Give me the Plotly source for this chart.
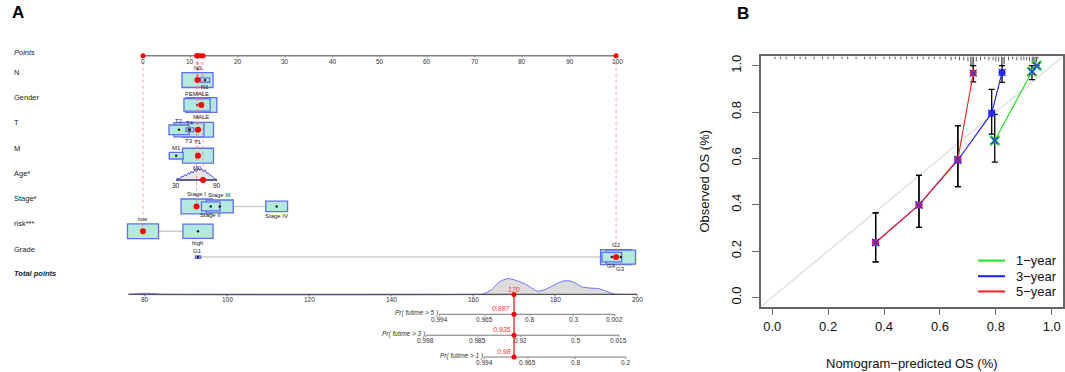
import numpy as np
import plotly.graph_objects as go

W, H = 1065, 372

# ======================= DATA =======================
points_ticks = [0, 10, 20, 30, 40, 50, 60, 70, 80, 90, 100]

N_levels = ["N0", "N1"]
N_points = [11.5, 13.1]
N_count = [330, 28]

gender_levels = ["FEMALE", "MALE"]
gender_points = [11.4, 12.3]
gender_count = [150, 210]

T_levels = ["T1", "T2", "T3", "T4"]
T_points = [11.6, 7.6, 9.7, 9.9]
T_count = [150, 63, 140, 10]

M_levels = ["M0", "M1"]
M_points = [11.6, 7.0]
M_count = [340, 68]

stage_levels = ["Stage I", "Stage II", "Stage III", "Stage IV"]
stage_points = [11.3, 14.3, 16.2, 28.2]
stage_count = [120, 43, 90, 59]

risk_levels = ["low", "high"]
risk_points = [0.0, 11.6]
risk_count = [185, 174]

grade_levels = ["G1", "G2", "G3", "G4"]
grade_points = [11.6, 99.8, 100.8, 98.9]
grade_count = [4, 150, 135, 60]

age_ticks = [30, 90]
age_points_at_ticks = [7.0, 15.6]
age_grid = [30, 32.5, 35, 37.5, 40, 42.5, 45, 47.5, 50, 52.5, 55, 57.5, 60,
            62.5, 65, 67.5, 70, 72.5, 75, 77.5, 80, 82.5, 85, 87.5, 90]
age_density = [0.05, 0.15, 0.1, 0.3, 0.25, 0.45, 0.35, 0.6, 0.5, 0.75, 0.6, 0.9, 0.7,
               1.0, 0.8, 0.95, 0.7, 0.85, 0.55, 0.6, 0.4, 0.35, 0.2, 0.1, 0.02]
patient_age = 69.5

patient_levels = {"N": "N0", "Gender": "MALE", "T": "T1", "M": "M0",
                  "Stage*": "Stage I", "risk***": "low", "Grade": "G2"}

total_ticks = [80, 100, 120, 140, 160, 180, 200]
total_axis_range = [76, 200]
total_grid = [76, 78, 80, 82, 84, 86, 160, 162.5, 164.5, 166.5, 168.5, 170.5, 172.5, 174,
              175.7, 177.5, 179.5, 181, 182.7, 184.5, 186.5, 188.5, 190.5, 192.5, 194.4, 196, 200]
total_density = [0, 0.04, 0.07, 0.05, 0.01, 0, 0, 0.03, 0.3, 0.8, 1.0, 0.88, 0.68, 0.45,
                 0.2, 0.3, 0.55, 0.75, 0.87, 0.78, 0.48, 0.4, 0.37, 0.2, 0.03, 0, 0]
total_score = 170

surv_titles = ["Pr( futime > 5 )", "Pr( futime > 3 )", "Pr( futime > 1 )"]
surv5_labels = ["0.994", "0.965", "0.8", "0.3", "0.002"]
surv5_at = [151.8, 162.9, 173.9, 184.4, 194.6]
surv3_labels = ["0.998", "0.985", "0.92", "0.5", "0.015"]
surv3_at = [148.5, 161.2, 171.7, 184.9, 195.6]
surv1_labels = ["0.994", "0.965", "0.8", "0.2"]
surv1_at = [162.7, 173.4, 184.9, 197.3]
surv_at_score = ["0.887", "0.935", "0.98"]

# calibration (panel B)
cal_names = ["1−year", "3−year", "5−year"]
cal1_pred = [0.796, 0.929, 0.946]
cal1_obs = [0.677, 0.974, 1.0]
cal1_lo = [0.584, 0.94, 1.0]
cal1_hi = [0.79, 1.0, 1.0]
cal3_pred = [0.370, 0.525, 0.664, 0.785, 0.822]
cal3_obs = [0.237, 0.399, 0.592, 0.795, 0.971]
cal3_lo = [0.153, 0.302, 0.478, 0.705, 0.928]
cal3_hi = [0.365, 0.527, 0.741, 0.898, 1.0]
cal5_pred = [0.370, 0.525, 0.664, 0.719]
cal5_obs = [0.237, 0.399, 0.596, 0.968]
cal5_lo = [0.153, 0.302, 0.478, 0.93]
cal5_hi = [0.365, 0.527, 0.741, 1.0]
cal_ticks = [0.0, 0.2, 0.4, 0.6, 0.8, 1.0]

rug_pred = [0.01, 0.03, 0.05, 0.08, 0.10, 0.12, 0.15, 0.18, 0.20, 0.22, 0.25, 0.27, 0.30,
            0.33, 0.35, 0.37, 0.40, 0.42, 0.44, 0.46, 0.48, 0.50, 0.52, 0.54, 0.56, 0.58,
            0.60, 0.62, 0.64, 0.655, 0.67, 0.685, 0.70, 0.71, 0.715, 0.72, 0.73, 0.745,
            0.76, 0.775, 0.79, 0.80, 0.81, 0.82, 0.825, 0.83, 0.845, 0.86, 0.875, 0.89,
            0.90, 0.91, 0.92, 0.93, 0.935, 0.94, 0.945, 0.95]
rug_count = [1, 1, 1, 1, 1, 1, 1, 1, 1, 1, 1, 1, 1,
             1, 1, 1, 1, 1, 1, 1, 1, 1, 1, 1, 1, 1,
             1, 1, 2, 1, 2, 2, 3, 7, 8, 8, 3, 2,
             1, 2, 2, 3, 3, 6, 7, 5, 2, 1, 2, 2,
             2, 2, 3, 5, 5, 5, 4, 1]

# ======================= LAYOUT CONSTANTS =======================
FONT = "Liberation Sans, Arial, Helvetica, sans-serif"
TXT = "#222222"
PXP = 4.74                      # px per nomogram point
PT0_PX = 143                    # pixel of 0 points
TP_PXP = 4.1                    # px per total point
TP80_PX = 145                   # pixel of 80 total points
LEFT_W = 690
ROW_LABEL_Y = {"Points": 51, "N": 71, "Gender": 96, "T": 121, "M": 147, "Age*": 172,
               "Stage*": 198, "risk***": 223, "Grade": 249, "Total points": 273}
BOX_DY = 7.5
BOX_MAX_W = 6.55
BOX_ASPECT = 0.48
POINTS_AXIS_Y = 54
AGE_AXIS_Y = 179
TOTAL_AXIS_Y = 294
SURV_AXIS_Y = [314, 335, 357]
BOX_FILL = "#b4e9df"
BOX_LINE = "rgb(98,110,240)"

CAL_L, CAL_R, CAL_T, CAL_B = 761, 1063, 54.7, 306.3
XR = [-0.04, 1.04]
YR = [-0.04, 1.04]
cal_colors = ["#22e022", "#1a1aff", "#ff2020"]

fig = go.Figure()
shapes = []
annotations = []


def ann(x, y, text, size, xref="x", yref="y", xanchor="center", yanchor="middle",
        color=TXT, **kw):
    annotations.append(dict(x=x, y=y, xref=xref, yref=yref, text=text, showarrow=False,
                            xanchor=xanchor, yanchor=yanchor, borderpad=0,
                            font=dict(family=FONT, size=size, color=color), **kw))


def line_trace(xs, ys, color, width, xaxis="x", yaxis="y", dash=None, **kw):
    fig.add_trace(go.Scatter(x=xs, y=ys, mode="lines", xaxis=xaxis, yaxis=yaxis,
                             line=dict(color=color, width=width, dash=dash),
                             hoverinfo="skip", showlegend=False, **kw))


# ---------------- row labels ----------------
for name, yl in ROW_LABEL_Y.items():
    txt = name
    if name == "Points":
        txt = "<i>Points</i>"
    elif name == "Total points":
        txt = "<b><i>Total points</i></b>"
    ann(13 / W, yl, txt, 7.5, xref="paper", xanchor="left")

# ---------------- points axis ----------------
line_trace([points_ticks[0], points_ticks[-1]], [POINTS_AXIS_Y] * 2, "#808080", 1.5)
tx, ty = [], []
for t in points_ticks:
    tx += [t, t, None]
    ty += [POINTS_AXIS_Y, POINTS_AXIS_Y + 2, None]
    ann(t, POINTS_AXIS_Y + 5.5, str(t), 6.5, color="#333333")
line_trace(tx, ty, "#808080", 0.8)

# ---------------- categorical rows ----------------
cat_rows = [
    ("N", N_levels, N_points, N_count),
    ("Gender", gender_levels, gender_points, gender_count),
    ("T", T_levels, T_points, T_count),
    ("M", M_levels, M_points, M_count),
    ("Stage*", stage_levels, stage_points, stage_count),
    ("risk***", risk_levels, risk_points, risk_count),
    ("Grade", grade_levels, grade_points, grade_count),
]

patient_pts = {}
patient_y = {}
cdx, cdy = [], []
for name, levels, pts, counts in cat_rows:
    yc = ROW_LABEL_Y[name] + BOX_DY
    cmax = max(counts)
    widths = [BOX_MAX_W * np.sqrt(c / cmax) for c in counts]
    heights = [BOX_ASPECT * w * PXP for w in widths]
    shapes.append(dict(type="line", xref="x", yref="y", x0=min(pts), x1=max(pts), y0=yc, y1=yc,
                       line=dict(color="#cdcdcd", width=1.5), layer="below"))
    for i in sorted(range(len(levels)), key=lambda k: -counts[k]):
        shapes.append(dict(type="rect", xref="x", yref="y",
                           x0=pts[i] - widths[i] / 2, x1=pts[i] + widths[i] / 2,
                           y0=yc - heights[i] / 2, y1=yc + heights[i] / 2,
                           fillcolor=BOX_FILL, line=dict(color=BOX_LINE, width=1.3),
                           layer="below"))
    for k, i in enumerate(sorted(range(len(levels)), key=lambda k: pts[k])):
        if k % 2 == 0:
            ann(pts[i], yc - heights[i] / 2 - 0.5, levels[i], 6, yanchor="bottom")
        else:
            ann(pts[i], yc + heights[i] / 2 + 0.5, levels[i], 6, yanchor="top")
    for i in range(len(levels)):
        cdx.append(pts[i])
        cdy.append(yc)
    patient_pts[name] = pts[levels.index(patient_levels[name])]
    patient_y[name] = yc

# ---------------- age row ----------------
age_pts_grid = np.interp(age_grid, age_ticks, age_points_at_ticks)
age_dy = [AGE_AXIS_Y - d * 12 for d in age_density]
fig.add_trace(go.Scatter(x=list(age_pts_grid) + [age_pts_grid[-1], age_pts_grid[0]],
                         y=age_dy + [AGE_AXIS_Y, AGE_AXIS_Y], mode="lines", fill="toself",
                         fillcolor="rgba(215,215,215,0.6)", line=dict(color="#4d4dff", width=1),
                         hoverinfo="skip", showlegend=False))
line_trace(list(np.interp(age_ticks, age_ticks, age_points_at_ticks)), [AGE_AXIS_Y] * 2, "#222222", 1)
for a in age_ticks:
    ann(float(np.interp(a, age_ticks, age_points_at_ticks)), AGE_AXIS_Y + 5.5, str(a), 6.5)
patient_pts["Age*"] = float(np.interp(patient_age, age_ticks, age_points_at_ticks))
patient_y["Age*"] = AGE_AXIS_Y

# black centre dots
fig.add_trace(go.Scatter(x=cdx, y=cdy, mode="markers", marker=dict(color="#222222", size=2.5),
                         hoverinfo="skip", showlegend=False))

# red dotted projection lines + red dots
rx, ry = [], []
for name in patient_pts:
    rx += [patient_pts[name], patient_pts[name], None]
    ry += [POINTS_AXIS_Y, patient_y[name], None]
line_trace(rx, ry, "rgba(255,110,110,0.75)", 0.9, dash="dot")
fig.add_trace(go.Scatter(x=list(patient_pts.values()), y=list(patient_y.values()), mode="markers",
                         marker=dict(color="red", size=6), hoverinfo="skip", showlegend=False))
fig.add_trace(go.Scatter(x=list(patient_pts.values()), y=[POINTS_AXIS_Y] * len(patient_pts),
                         mode="markers", marker=dict(color="red", size=5),
                         hoverinfo="skip", showlegend=False))

# ---------------- total points ----------------
tot_y = [TOTAL_AXIS_Y - d * 16 for d in total_density]
fig.add_trace(go.Scatter(x=total_grid + [total_grid[-1], total_grid[0]],
                         y=tot_y + [TOTAL_AXIS_Y, TOTAL_AXIS_Y], xaxis="x2", yaxis="y",
                         mode="lines", fill="toself", fillcolor="#dcdcdc",
                         line=dict(color="#7070ff", width=1, shape="spline", smoothing=0.6),
                         hoverinfo="skip", showlegend=False))
line_trace(total_axis_range, [TOTAL_AXIS_Y] * 2, "#555555", 1.2, xaxis="x2")
tx, ty = [], []
for t in total_ticks:
    tx += [t, t, None]
    ty += [TOTAL_AXIS_Y, TOTAL_AXIS_Y + 2, None]
    ann(t, TOTAL_AXIS_Y + 5, str(t), 6.5, xref="x2", color="#333333")
line_trace(tx, ty, "#555555", 0.8, xaxis="x2")

# survival axes
surv_sets = [(surv5_labels, surv5_at), (surv3_labels, surv3_at), (surv1_labels, surv1_at)]
for (labels, at), yline, title in zip(surv_sets, SURV_AXIS_Y, surv_titles):
    line_trace([at[0], at[-1]], [yline] * 2, "#777777", 1, xaxis="x2")
    tx, ty = [], []
    for lab, a in zip(labels, at):
        tx += [a, a, None]
        ty += [yline, yline + 2, None]
        ann(a, yline + 5.5, lab, 6.5, xref="x2", color="#333333")
    line_trace(tx, ty, "#777777", 0.8, xaxis="x2")
    ann(at[0], yline - 1, "<i>" + title + "</i>", 6.5, xref="x2", xanchor="right", color="#333333")

# red total line
line_trace([total_score, total_score], [TOTAL_AXIS_Y, SURV_AXIS_Y[-1]], "#ff3333", 1.5, xaxis="x2")
fig.add_trace(go.Scatter(x=[total_score] * 4, y=[TOTAL_AXIS_Y] + SURV_AXIS_Y, xaxis="x2", yaxis="y",
                         mode="markers", marker=dict(color="red", size=5),
                         hoverinfo="skip", showlegend=False))
ann(total_score, TOTAL_AXIS_Y - 5, "<i>%d</i>" % total_score, 7, xref="x2", color="#ff3333")
for val, yline in zip(surv_at_score, SURV_AXIS_Y):
    ann(total_score, yline - 6, "<i>" + val + "</i>", 7, xref="x2", xanchor="right",
        color="#ff3333", xshift=-2)

# ======================= PANEL B =======================
line_trace(XR, YR, "#dcdcdc", 1.2, xaxis="x3", yaxis="y2")
ypp = (YR[1] - YR[0]) / (CAL_B - CAL_T)
rgx, rgy = [], []
for v, c in zip(rug_pred, rug_count):
    rgx += [v, v, None]
    rgy += [YR[1], YR[1] - (1.5 + 1.2 * c) * ypp, None]
line_trace(rgx, rgy, "#333333", 0.8, xaxis="x3", yaxis="y2")

cal_sets = [(cal1_pred, cal1_obs, cal1_lo, cal1_hi),
            (cal3_pred, cal3_obs, cal3_lo, cal3_hi),
            (cal5_pred, cal5_obs, cal5_lo, cal5_hi)]
for (px_, ob, lo, hi), col in zip(cal_sets, cal_colors):
    fig.add_trace(go.Scatter(x=px_, y=ob, xaxis="x3", yaxis="y2", mode="markers",
                             marker=dict(size=1, color="rgba(0,0,0,0)"),
                             error_y=dict(type="data", symmetric=False,
                                          array=[h - o for h, o in zip(hi, ob)],
                                          arrayminus=[o - l for o, l in zip(ob, lo)],
                                          color="black", thickness=1.3, width=3),
                             hoverinfo="skip", showlegend=False))
for (px_, ob, lo, hi), col in zip(cal_sets, cal_colors):
    line_trace(px_, ob, col, 1.1, xaxis="x3", yaxis="y2")
for idx, ((px_, ob, lo, hi), col) in enumerate(zip(cal_sets, cal_colors)):
    if idx == 0:
        mk = dict(symbol="x-thin-open", size=9, color=col, line=dict(color=col, width=2.6))
    else:
        mk = dict(symbol="circle", size=7, color=col)
    fig.add_trace(go.Scatter(x=px_, y=ob, xaxis="x3", yaxis="y2", mode="markers", marker=mk,
                             hoverinfo="skip", showlegend=False))
    fig.add_trace(go.Scatter(x=px_, y=ob, xaxis="x3", yaxis="y2", mode="markers",
                             marker=dict(symbol="x-thin-open", size=7, color="#3030ff",
                                         line=dict(color="#3030ff", width=1.3)),
                             hoverinfo="skip", showlegend=False))

# manual legend
LEG_Y = [260, 275.7, 291]
for name, col, ly in zip(cal_names, cal_colors, LEG_Y):
    shapes.append(dict(type="line", xref="paper", yref="paper", x0=978 / W, x1=1005 / W,
                       y0=1 - ly / H, y1=1 - ly / H, line=dict(color=col, width=2)))
    ann(1015 / W, 1 - ly / H, name, 13, xref="paper", yref="paper", xanchor="left", color="#111111")

ann(912 / W, 1 - 363 / H, "Nomogram−predicted OS (%)", 13, xref="paper", yref="paper", color="#111111")
ann(705 / W, 1 - (CAL_T + CAL_B) / 2 / H, "Observed OS (%)", 13, xref="paper", yref="paper",
    color="#111111", textangle=-90)

# panel letters
ann(18 / W, 1 - 11 / H, "<b>A</b>", 17, xref="paper", yref="paper", color="#000000")
ann(743 / W, 1 - 12 / H, "<b>B</b>", 17, xref="paper", yref="paper", color="#000000")

axis_common = dict(showgrid=False, zeroline=False, fixedrange=True)
fig.update_layout(
    width=W, height=H, margin=dict(l=0, r=0, t=0, b=0),
    paper_bgcolor="white", plot_bgcolor="rgba(0,0,0,0)", showlegend=False,
    xaxis=dict(domain=[0, LEFT_W / W], range=[-PT0_PX / PXP, (LEFT_W - PT0_PX) / PXP],
               visible=False, anchor="y", **axis_common),
    xaxis2=dict(domain=[0, LEFT_W / W],
                range=[80 - TP80_PX / TP_PXP, 80 + (LEFT_W - TP80_PX) / TP_PXP],
                overlaying="x", visible=False, anchor="y", **axis_common),
    yaxis=dict(domain=[0, 1], range=[H, 0], visible=False, anchor="x", **axis_common),
    xaxis3=dict(domain=[CAL_L / W, CAL_R / W], range=XR, anchor="y2",
                showline=True, mirror=True, linecolor="#666666", linewidth=1.5,
                ticks="outside", ticklen=7, tickwidth=1.2, tickcolor="#666666",
                tickvals=cal_ticks, tickformat=".1f",
                tickfont=dict(family=FONT, size=13, color="#111111"), **axis_common),
    yaxis2=dict(domain=[(H - CAL_B) / H, (H - CAL_T) / H], range=YR, anchor="x3",
                showline=True, mirror=True, linecolor="#666666", linewidth=1.5,
                ticks="outside", ticklen=7, tickwidth=1.2, tickcolor="#666666",
                tickvals=cal_ticks, tickformat=".1f", tickangle=-90, ticklabelstandoff=6,
                tickfont=dict(family=FONT, size=13, color="#111111"), **axis_common),
    shapes=shapes, annotations=annotations,
)

fig.write_html("out.html", config={"displayModeBar": False},
               post_script="document.body.style.margin='0';document.body.style.overflow='hidden';")
